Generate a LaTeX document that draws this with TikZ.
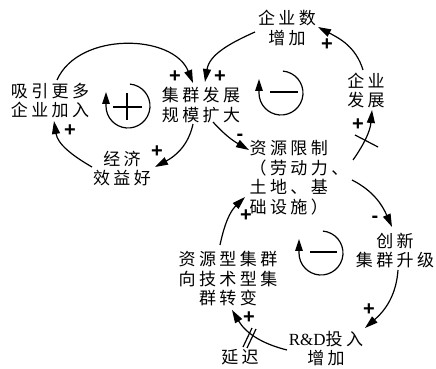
\documentclass[tikz,border=0pt]{standalone}
\usepackage{fontspec}
\setmainfont{Liberation Serif}
\newfontfamily\cjk[LetterSpace=20]{Noto Sans CJK SC}
\newfontfamily\lat{Liberation Serif}
\newfontfamily\polfont{Liberation Sans}
\usetikzlibrary{arrows.meta}
\begin{document}
\begin{tikzpicture}[x=1pt,y=1pt,
  lbl/.style={font=\cjk\fontsize{17}{19.5}\selectfont, align=center, inner sep=0pt},
  link/.style={line width=1.2pt, -{Triangle[length=13pt,width=8pt]}},
  pol/.style={font=\polfont\bfseries\fontsize{20}{20}\selectfont, inner sep=0pt},
  loopc/.style={line width=1.2pt},
  delaymark/.style={line width=1.2pt},
]
\useasboundingbox (0,0) rectangle (436,369);
% nodes
\node[lbl] (n1) at (50,268.5) {吸引更多\\企业加入};
\node[lbl] (n2) at (201,264) {集群发展\\规模扩大};
\node[lbl] (n3) at (122,200.5) {经济\\效益好};
\node[lbl] (n4) at (287,341) {企业数\\增加};
\node[lbl] (n5) at (366,278.5) {企业\\发展};
\node[lbl, align=left] (n6) at (299,191.5) {资源限制\\（劳动力、\\土地、基\\础设施）};
\node[lbl] (n7) at (395,118.5) {创新\\集群升级};
\node[lbl] (n8) at (326,20.5) {{\lat R\&D}投入\\增加};
\node[lbl] (n9) at (228,90) {资源型集群\\向技术型集\\群转变};
\node[lbl] (n10) at (240,11.5) {延迟};
% connectors
\draw[link] ([shift={(-30,1.5)}]n3.center) to[out=150,in=-81] ([shift={(4,-20.5)}]n1.center);
\draw[link] ([shift={(7,20.5)}]n1.center) to[out=66,in=112] ([shift={(-8,22)}]n2.center);
\draw[link] ([shift={(-8,-19)}]n2.center) to[out=-102,in=28] ([shift={(33,1.5)}]n3.center);
\draw[link] ([shift={(-32,-4)}]n4.center) to[out=-156,in=81] ([shift={(4,23)}]n2.center);
\draw[link] ([shift={(-3,20.5)}]n5.center) to[out=107,in=-28] ([shift={(31,1)}]n4.center);
\draw[link] ([shift={(54,17.5)}]n6.center) to[out=55,in=-95] ([shift={(6,-19.5)}]n5.center);
\draw[link] ([shift={(12,-17)}]n2.center) to[out=-48,in=150] ([shift={(-50,27.5)}]n6.center);
\draw[link] ([shift={(53,-2.5)}]n6.center) to[out=-27,in=114] ([shift={(-3,23.5)}]n7.center);
\draw[link] ([shift={(3,-19.5)}]n7.center) to[out=-94,in=41] ([shift={(39,20.5)}]n8.center);
\draw[link] ([shift={(-39,-1.5)}]n8.center) to[out=166,in=-59] ([shift={(4,-31)}]n9.center);
\draw[link] ([shift={(-8,34)}]n9.center) to[out=78,in=-136] ([shift={(-54,-19.5)}]n6.center);
% polarities
\node[pol] (p1) at (70,238) {+};
\node[pol] (p2) at (175,292) {+};
\node[pol] (p3) at (157,217) {+};
\node[pol] (p4) at (220,292) {+};
\node[pol] (p5) at (327,324) {+};
\node[pol] (p6) at (358,244) {+};
\node[pol] (p7) at (240,232) {-};
\node[pol] (p8) at (375,150) {-};
\node[pol] (p9) at (369,59) {+};
\node[pol] (p10) at (249,51) {+};
\node[pol] (p11) at (246,153) {+};
% delays
\draw[delaymark] (355,234) -- (378,222);
\draw[delaymark] (243,22) -- (252,41);
\draw[delaymark] (247,21) -- (256,40);
% loop markers
\coordinate (L1) at (128,263);
\coordinate (L2) at (281,276);
\coordinate (L3) at (321,116);
\foreach \c in {L1,L2,L3}{
  \draw[loopc, -{Triangle[length=12pt,width=7.5pt]}] (\c) ++(85:22) arc[start angle=85,end angle=-180,radius=22] -- ++(0,14);
}
\draw[loopc] (113,262) -- (142,262);
\draw[loopc] (127,276) -- (127,249);
\draw[loopc] (270,277) -- (298,277);
\draw[loopc] (310,117) -- (337,117);
\end{tikzpicture}
\end{document}
